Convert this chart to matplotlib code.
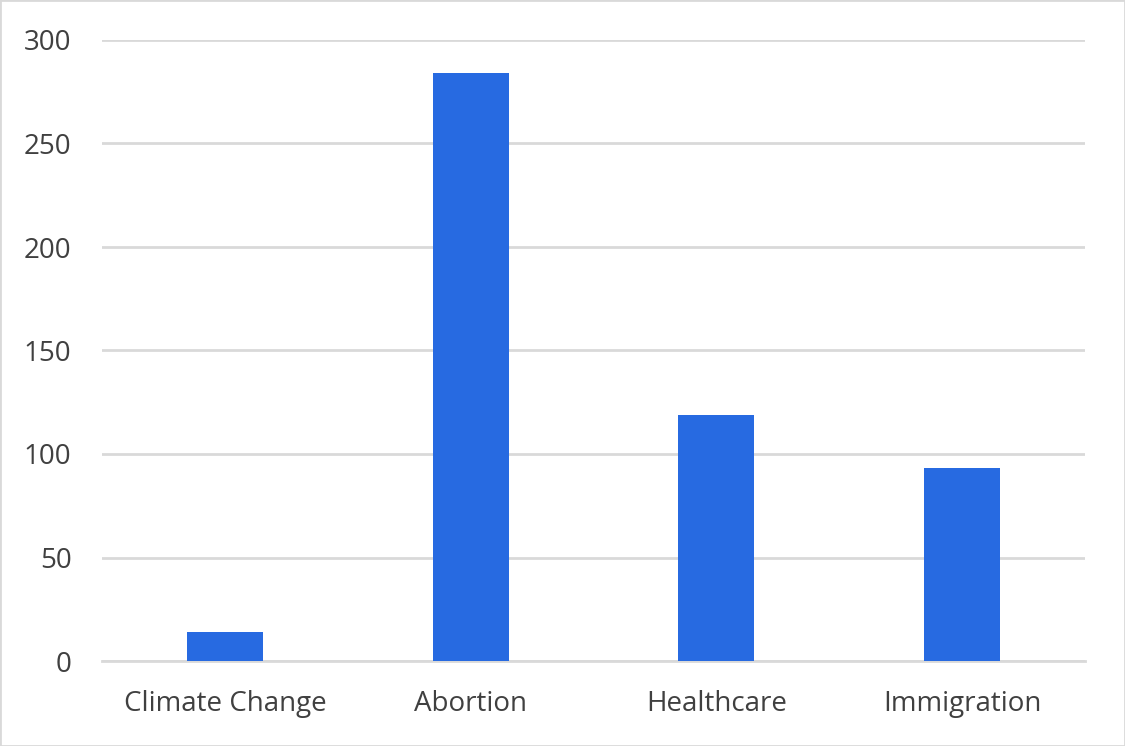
import matplotlib.pyplot as plt
from matplotlib.patches import Rectangle

categories = ['Climate Change', 'Abortion', 'Healthcare', 'Immigration']
counts = [14, 284, 119, 93]
y_ticks = [0, 50, 100, 150, 200, 250, 300]

plt.rcParams['font.family'] = ['Open Sans', 'DejaVu Sans']

fig = plt.figure(figsize=(11.25, 7.46), dpi=100)
ax = fig.add_axes([102 / 1125, 1 - 661 / 746, (1085 - 102) / 1125, (661 - 40) / 746])

ax.bar(range(len(categories)), counts, width=0.31, color='#276AE1', zorder=3)

ax.set_xlim(-0.5, len(categories) - 0.5)
ax.set_ylim(0, 300)
ax.set_yticks(y_ticks)
ax.set_xticks(range(len(categories)))
ax.set_xticklabels(categories)
ax.yaxis.grid(True, color='#D9D9D9', linewidth=2, zorder=0)
for s in ['top', 'right', 'left']:
    ax.spines[s].set_visible(False)
ax.spines['bottom'].set_color('#D9D9D9')
ax.spines['bottom'].set_linewidth(2)
ax.tick_params(axis='both', length=0, labelsize=20, colors='#404040')
ax.tick_params(axis='y', pad=22)
ax.tick_params(axis='x', pad=21)

fig.patches.append(Rectangle((0, 0), 1, 1, transform=fig.transFigure,
                             fill=False, edgecolor='#D9D9D9', linewidth=2))

fig.savefig('out.png', dpi=100)
